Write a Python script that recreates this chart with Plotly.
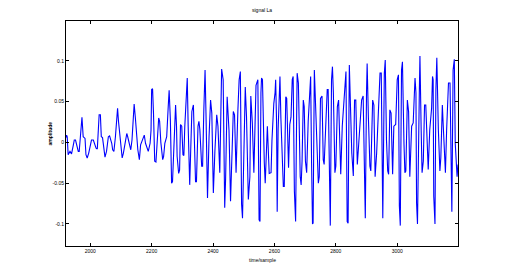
import plotly.graph_objects as go

# sample index (time/sample) and amplitude of the signal
samples = [
    1921, 1923, 1925, 1928, 1934, 1939, 1945, 1948, 1952, 1956, 1961, 1964, 1970, 1973, 1977, 1983,
    1986, 1990, 1995, 1999, 2004, 2010, 2015, 2019, 2023, 2027, 2029, 2033, 2036, 2040, 2045, 2048,
    2053, 2059, 2063, 2066, 2070, 2073, 2077, 2082, 2086, 2089, 2092, 2097, 2101, 2104, 2108, 2113,
    2119, 2122, 2126, 2132, 2136, 2140, 2143, 2147, 2151, 2155, 2160, 2164, 2168, 2173, 2176, 2180,
    2186, 2189, 2195, 2198, 2200, 2203, 2206, 2210, 2214, 2218, 2223, 2226, 2230, 2236, 2239, 2243,
    2249, 2254, 2257, 2261, 2265, 2268, 2273, 2278, 2281, 2283, 2288, 2291, 2294, 2298, 2302, 2305,
    2308, 2314, 2316, 2319, 2324, 2327, 2331, 2336, 2339, 2343, 2346, 2351, 2354, 2357, 2363, 2366,
    2370, 2374, 2377, 2380, 2382, 2387, 2392, 2396, 2401, 2406, 2412, 2416, 2422, 2428, 2433, 2438,
    2441, 2446, 2452, 2457, 2462, 2466, 2470, 2475, 2481, 2485, 2489, 2493, 2496, 2501, 2505, 2509,
    2515, 2520, 2523, 2528, 2533, 2540, 2546, 2550,
    2553, 2556, 2558, 2561, 2564, 2567, 2570, 2573, 2577, 2583, 2589, 2592, 2596, 2598, 2602, 2604,
    2607, 2609, 2612, 2615, 2618, 2621, 2624, 2629, 2632, 2634, 2637, 2640, 2643, 2646, 2650, 2654,
    2658, 2661, 2665, 2667, 2669, 2672, 2674, 2678, 2681, 2684, 2687, 2690, 2694, 2697, 2701, 2705,
    2710, 2716, 2718, 2721, 2724, 2726, 2730, 2733, 2737, 2743, 2746, 2750, 2755, 2759, 2762, 2767,
    2772, 2775, 2779, 2782, 2786, 2789, 2792, 2797, 2800, 2805, 2809, 2813, 2816, 2821, 2830, 2833,
    2837, 2840, 2844, 2847, 2852, 2857, 2861, 2865, 2870, 2874, 2878, 2884, 2889, 2893, 2896, 2900,
    2902, 2906, 2911, 2914, 2920, 2924, 2928, 2933, 2938, 2944, 2948, 2950, 2953, 2958, 2961, 2965,
    2969, 2972, 2976, 2980, 2985, 2989, 2995, 3000, 3004, 3007, 3010, 3014, 3017, 3022, 3025, 3028,
    3033, 3037, 3041, 3047, 3052, 3058, 3061, 3063, 3066, 3072, 3074, 3078, 3081, 3085, 3089, 3093,
    3098, 3101, 3106, 3112, 3115, 3117, 3119, 3123, 3126, 3129, 3134, 3139, 3142, 3147, 3150, 3153,
    3157, 3161, 3167, 3172, 3175, 3178, 3182, 3186, 3189, 3192, 3195, 3198,
]
amplitude = [
    0.006, 0.009, 0.007, -0.015, -0.011, -0.014, -0.003, 0.003, 0.003, -0.003, -0.011, -0.011, 0.022, 0.031, 0.007, 0.005,
    -0.015, -0.019, -0.013, -0.005, 0.003, 0.003, -0.003, -0.007, -0.008, 0.019, 0.034, 0.034, 0.007, 0.006, -0.015, -0.018,
    -0.011, 0.007, 0.008, 0.004, -0.001, -0.009, -0.011, 0.007, 0.036, 0.042, 0.026, 0.009, -0.007, -0.019, -0.013, -0.001,
    0.011, 0.007, -0.001, -0.009, 0.003, 0.028, 0.047, 0.030, 0.005, -0.009, -0.021, -0.003, 0.001, 0.007, 0.009, -0.001,
    -0.007, -0.011, -0.001, 0.015, 0.065, 0.066, 0.036, -0.023, -0.024, -0.001, 0.030, 0.026, 0.000, -0.021, -0.017, -0.001,
    0.007, 0.044, 0.064, 0.028, -0.050, -0.048, 0.007, 0.046, 0.020, -0.017, -0.038, -0.034, 0.022, 0.020, -0.015, -0.016,
    0.020, 0.065, 0.079, 0.020, -0.052, -0.013, 0.038, 0.046, 0.007, -0.048, -0.048, 0.020, 0.026, 0.016, -0.029, -0.029,
    0.040, 0.089, 0.036, -0.058, -0.068, 0.007, 0.052, 0.036, -0.062, -0.011, 0.034, 0.020, -0.037, 0.090, 0.077, -0.080,
    -0.044, 0.056, 0.015, -0.072, -0.017, 0.038, 0.034, -0.037, 0.040, 0.077, 0.087, -0.076, -0.093, 0.015, 0.068, 0.032,
    -0.070, -0.042, 0.057, 0.024, -0.037, 0.070, 0.077, -0.095,
    -0.097, 0.061, 0.079, 0.077, 0.007, -0.025, -0.050, -0.025, 0.020, -0.038, -0.037, 0.003, 0.034, 0.048, 0.061, 0.077,
    0.024, -0.085, 0.016, 0.065, 0.081, 0.030, -0.009, -0.054, -0.054, 0.003, 0.056, 0.054, 0.020, -0.031, 0.022, 0.031,
    0.077, 0.081, -0.060, -0.072, -0.097, 0.020, 0.085, 0.073, -0.017, -0.042, -0.052, -0.023, 0.052, 0.044, -0.023, -0.037,
    0.026, 0.081, 0.081, -0.025, -0.100, -0.099, 0.089, 0.057, 0.003, -0.050, -0.042, 0.054, 0.057, -0.021, -0.027, 0.020,
    0.065, 0.065, -0.078, -0.102, 0.077, 0.093, 0.061, -0.037, -0.029, 0.044, 0.052, -0.013, -0.039, 0.020, 0.077, 0.087,
    -0.097, -0.099, 0.095, 0.057, -0.013, -0.041, 0.052, 0.052, -0.027, -0.005, 0.022, 0.052, 0.057, -0.058, -0.093, 0.061,
    0.097, 0.032, -0.029, -0.035, 0.052, 0.046, -0.042, -0.013, 0.034, 0.085, 0.085, -0.009, -0.093, 0.085, 0.101, 0.003,
    -0.035, -0.039, 0.040, 0.036, -0.039, 0.020, 0.022, 0.077, 0.083, -0.078, -0.102, 0.089, 0.099, -0.001, -0.037, -0.035,
    0.052, 0.038, -0.042, 0.020, 0.024, 0.079, 0.061, -0.074, -0.100, 0.061, 0.106, 0.016, -0.037, -0.023, 0.046, 0.046,
    -0.019, -0.033, 0.016, 0.042, 0.081, 0.077, -0.066, -0.100, 0.065, 0.104, 0.016, -0.035, -0.019, 0.046, 0.020, -0.017,
    -0.037, 0.016, 0.073, 0.073, -0.042, -0.085, 0.089, 0.102, -0.001, -0.027, -0.042, -0.027,
]

x_ticks = [2000, 2200, 2400, 2600, 2800, 3000]
x_tick_labels = ["2000", "2200", "2400", "2600", "2800", "3000"]
y_ticks = [-0.1, -0.05, 0, 0.05, 0.1]
y_tick_labels = ["-0.1", "-0.05", "0", "0.05", "0.1"]

title_text = "signal La"
x_label = "time/sample"
y_label = "amplitude"

font = dict(family="Liberation Sans, Arial, sans-serif", size=5, color="#000000")

fig = go.Figure()
fig.add_trace(go.Scatter(
    x=samples, y=amplitude, mode="lines",
    line=dict(color="#0000FF", width=1.1),
    showlegend=False, hoverinfo="skip",
))

axis_common = dict(
    showline=True, linecolor="#000000", linewidth=1,
    mirror="ticks", ticks="inside", ticklen=3, tickwidth=1, tickcolor="#000000",
    showgrid=False, zeroline=False, tickfont=font,
)

fig.update_layout(
    width=506, height=277,
    margin=dict(l=66, r=48, t=21, b=31),
    paper_bgcolor="#FFFFFF", plot_bgcolor="#FFFFFF",
    font=font,
    xaxis=dict(range=[1921, 3198], tickvals=x_ticks, ticktext=x_tick_labels, **axis_common),
    yaxis=dict(range=[-0.127, 0.149], tickvals=y_ticks, ticktext=y_tick_labels, **axis_common),
    annotations=[
        dict(text=title_text, xref="paper", yref="paper", x=0.5, y=1, yshift=6,
             showarrow=False, xanchor="center", yanchor="bottom", font=font),
        dict(text=x_label, xref="paper", yref="paper", x=0.5, y=0, yshift=-9,
             showarrow=False, xanchor="center", yanchor="top", font=font),
        dict(text="<b>" + y_label + "</b>", xref="paper", yref="paper", x=0, xshift=-17, y=0.5,
             showarrow=False, xanchor="center", yanchor="middle", textangle=-90, font=font),
    ],
)

fig.write_html("out.html")
